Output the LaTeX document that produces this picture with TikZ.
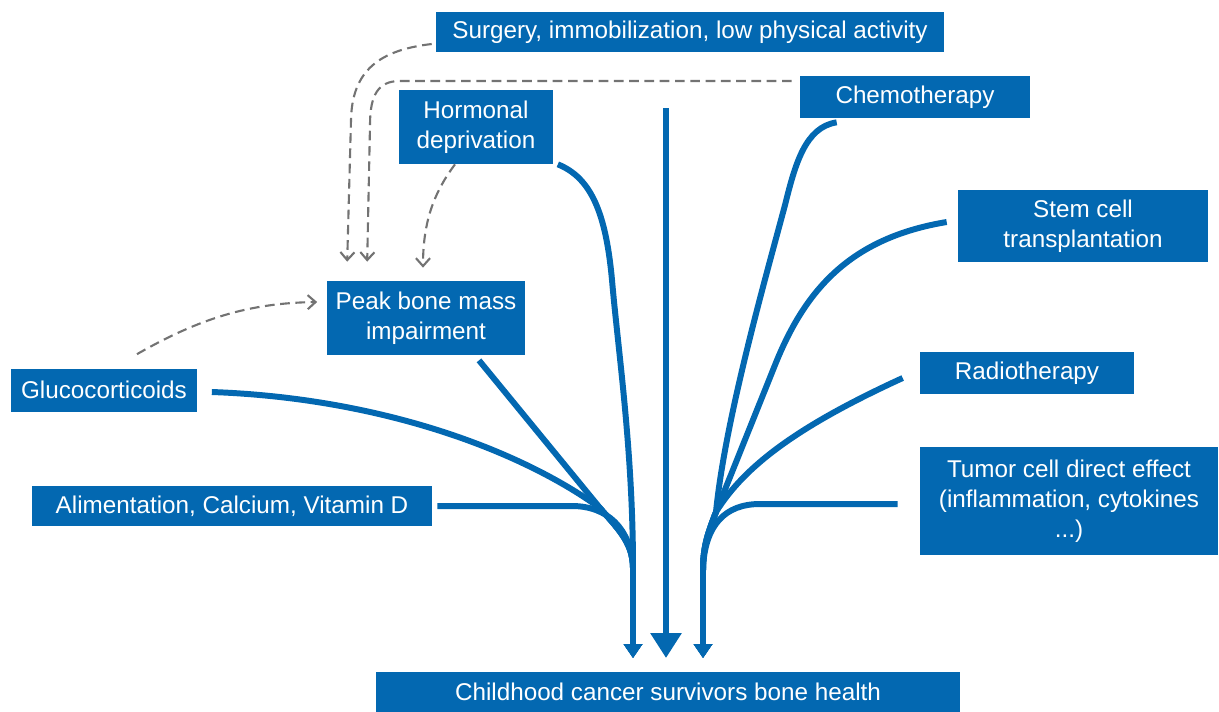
\documentclass[tikz,border=0pt]{standalone}
\usepackage{fontspec}
\setmainfont{Liberation Sans}
\definecolor{boneblue}{RGB}{3, 104, 177}
\definecolor{linkgray}{RGB}{115, 115, 115}
\usetikzlibrary{arrows.meta, calc}

\begin{document}
\begin{tikzpicture}[x=0.02cm, y=-0.02cm,
  cbox/.style={fill=boneblue, text=white, align=center, inner sep=0pt, font=\fontsize{13.8}{17}\selectfont},
  flowline/.style={draw=boneblue, line width=3.4pt, line join=round},
  sidetip/.style={-{Triangle[width=0.36cm, length=0.28cm]}},
  maintip/.style={-{Triangle[width=0.6cm, length=0.5cm]}},
  dashlink/.style={draw=linkgray, line width=1.2pt, dash pattern=on 5.5pt off 3.2pt, -{Straight Barb[width=8pt, length=4.5pt]}}]
  \useasboundingbox (0,0) rectangle (1219,711);

  % Causes
  \node[cbox, minimum width=10.16cm, minimum height=0.8cm] (surg) at (690,32) {Surgery, immobilization, low physical activity};
  \node[cbox, minimum width=3.1cm, minimum height=1.48cm] (horm) at (476,127) {Hormonal\\deprivation};
  \node[cbox, minimum width=4.6cm, minimum height=0.84cm] (chemo) at (915,97) {Chemotherapy};
  \node[cbox, minimum width=5cm, minimum height=1.44cm] (stem) at (1083,226) {Stem cell\\transplantation};
  \node[cbox, minimum width=4.28cm, minimum height=0.84cm] (radio) at (1027,373) {Radiotherapy};
  \node[cbox, minimum width=5.96cm, minimum height=2.16cm] (tumor) at (1069,501) {Tumor cell direct effect\\(inflammation, cytokines\\...)};
  \node[cbox, minimum width=3.98cm, minimum height=1.48cm] (peak) at (426,318) {Peak bone mass\\impairment};
  \node[cbox, minimum width=3.74cm, minimum height=0.86cm] (gluco) at (104,390) {Glucocorticoids};
  \node[cbox, minimum width=8cm, minimum height=0.8cm] (alim) at (232,506) {Alimentation, Calcium, Vitamin D};

  % Outcome
  \node[cbox, minimum width=11.68cm, minimum height=0.8cm] (child) at (668,692) {Childhood cancer survivors bone health};

  \coordinate (jl) at (600,508);
  \coordinate (jr) at (716,512);
  \coordinate (tl) at (633,658);
  \coordinate (tr) at (703,658);
  \coordinate (mtop) at (666,108);
  \coordinate (tm) at (666,658);

  % Left bundle
  \draw[flowline, sidetip] ($(horm.south east)+(4,0)$) .. controls (592,178) and (606,215) .. (612,280)
    .. controls (618,350) and (633,450) .. (633,568) -- (tl);
  \draw[flowline, sidetip] ($(peak.south)+(53,5)$) -- (jl) .. controls (616,527) and (633,542) .. (633,568) -- (tl);
  \draw[flowline, sidetip] ($(gluco.east)+(14,2)$) .. controls (380,398) and (520,450) .. (jl)
    .. controls (616,527) and (633,542) .. (633,568) -- (tl);
  \draw[flowline, sidetip] ($(alim.east)+(5,0)$) -- (572,506) .. controls (607,506) and (631,528) .. (633,568) -- (tl);

  % Middle
  \draw[flowline, maintip] (mtop) -- (tm);

  % Right bundle
  \draw[flowline, sidetip] ($(chemo.south west)+(37,4)$) .. controls (805,127) and (795,165) .. (785,205)
    .. controls (765,280) and (725,420) .. (jr) .. controls (707,535) and (703,548) .. (703,570) -- (tr);
  \draw[flowline, sidetip] ($(stem.west)+(-11,-4)$) .. controls (850,238) and (805,290) .. (775,365)
    -- (jr) .. controls (707,535) and (703,548) .. (703,570) -- (tr);
  \draw[flowline, sidetip] ($(radio.west)+(-17,5)$) .. controls (800,425) and (745,465) .. (jr)
    .. controls (707,535) and (703,548) .. (703,570) -- (tr);
  \draw[flowline, sidetip] ($(tumor.west)+(-22,3)$) -- (760,504) .. controls (725,504) and (705,525) .. (703,568) -- (tr);

  % Dashed influences
  \draw[dashlink] ($(surg.west)+(-4,12)$) .. controls (380,50) and (352,70) .. (351,120) -- ($(peak.north west)+(21,-19)$);
  \draw[dashlink] ($(chemo.west)+(-8,-16)$) -- (400,81) .. controls (378,81) and (370,95) .. (370,125) -- ($(peak.north west)+(41,-19)$);
  \draw[dashlink] ($(horm.south)+(-21,0)$) .. controls (432,195) and (423,225) .. ($(peak.north)+(-3,-13)$);
  \draw[dashlink] ($(gluco.north)+(33,-14)$) .. controls (200,318) and (250,303) .. ($(peak.west)+(-9,-16)$);
\end{tikzpicture}
\end{document}
